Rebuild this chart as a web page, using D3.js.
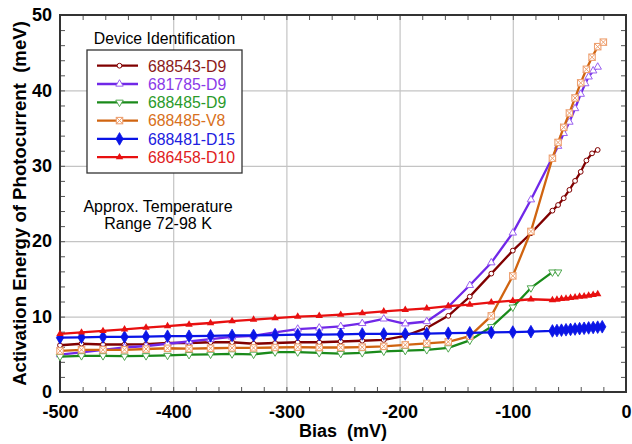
<!DOCTYPE html>
<html><head><meta charset="utf-8">
<script src="https://cdn.jsdelivr.net/npm/d3@7/dist/d3.min.js"></script>
<style>body{margin:0;background:#fff}svg{display:block}text{font-family:"Liberation Sans",Arial,sans-serif}</style>
</head><body>
<svg id="c" width="632" height="444"></svg>
<script>
// ---- data ----
const seriesNames = ["688543-D9","681785-D9","688485-D9","688485-V8","688481-D15","686458-D10"];
const seriesColors = ["#800000","#7028e8","#1a8a1a","#d06410","#0a14e6","#e81010"];
const textColors   = ["#8b1a1a","#8a3ae8","#2a9a2a","#d87020","#2020e0","#e02020"];
const baseBias = [-500,-481,-462,-443,-424,-405,-386,-367,-348,-329,-310,-290,-271,-252,-233,-214,-195,-176,-157,-138,-119,-100,-84];

const biasA = baseBias.concat([-65,-60,-55,-50,-45,-40,-35,-30,-25]);
const valA  = [6.2,6.4,6.3,6.3,6.35,6.5,6.5,6.6,6.6,6.4,6.5,6.6,6.6,6.7,6.8,6.9,7.45,8.5,10.1,12.65,15.7,18.75,21.05,24.05,24.8,25.7,26.8,28.0,29.2,30.7,31.65,32.1];

const biasB = baseBias.concat([-60,-55,-50,-45,-40,-36,-33,-29,-25]);
const valB  = [4.95,5.25,5.6,5.9,6.1,6.4,6.7,7.0,7.3,7.45,7.9,8.35,8.5,8.7,9.1,9.7,9.05,9.35,11.3,14.15,17.15,21.1,25.5,32.6,34.3,35.8,37.6,39.5,40.9,41.8,42.6,43.1];

const biasC = baseBias.concat([-65,-60]);
const valC  = [4.7,4.8,4.8,4.75,4.8,4.85,4.95,5.0,5.05,5.0,5.3,5.3,5.2,5.1,5.2,5.4,5.5,5.6,5.85,6.85,8.65,11.25,13.8,15.9,15.9];

const biasD = baseBias.concat([-65,-60,-55,-50,-45,-40,-35,-30,-25,-20]);
const valD  = [5.45,5.6,5.6,5.6,5.7,5.8,5.75,5.8,5.85,5.85,5.9,5.95,5.9,5.9,5.95,6.05,6.25,6.45,6.65,7.4,10.1,15.4,21.3,31.0,33.1,35.1,37.0,39.0,41.0,42.8,44.4,45.8,46.4];

const biasE = baseBias.concat([-65,-61,-57,-53,-49,-45,-41,-37,-33,-29,-25,-21]);
const valE  = [7.2,7.25,7.3,7.3,7.35,7.4,7.4,7.45,7.5,7.5,7.55,7.6,7.6,7.65,7.7,7.7,7.7,7.75,7.8,7.85,7.9,7.95,8.0,8.1,8.15,8.2,8.25,8.3,8.35,8.4,8.45,8.5,8.55,8.6,8.65];

const biasF = baseBias.concat([-65,-61,-57,-53,-49,-45,-41,-37,-33,-29,-25]);
const valF  = [7.7,7.9,8.1,8.3,8.55,8.75,8.95,9.15,9.4,9.6,9.8,10.0,10.1,10.25,10.45,10.7,10.9,11.1,11.4,11.6,11.9,12.1,12.3,12.2,12.25,12.35,12.4,12.5,12.55,12.65,12.7,12.8,12.9,13.0];

const xMajor = [-500,-400,-300,-200,-100,0];
const yMajor = [0,10,20,30,40,50];
const noteLines = ["Approx. Temperature","Range 72-98 K"];

// ---- layout ----
const L=60,R=626,T=15,B=392;
const svg=d3.select("#c");
const x=d3.scaleLinear().domain([-500,0]).range([L,R]);
const y=d3.scaleLinear().domain([0,50]).range([B,T]);
const minorX=d3.range(-500,1,20), minorY=d3.range(0,51,2);

// grid
svg.append("g").attr("transform",`translate(0,${B})`)
  .call(d3.axisBottom(x).tickValues(xMajor.slice(1,-1)).tickSize(-(B-T)).tickFormat(""))
  .call(g=>{g.select(".domain").remove();g.selectAll("line").attr("stroke","#c4c4c4").attr("stroke-width",1.2);});
svg.append("g").attr("transform",`translate(${L},0)`)
  .call(d3.axisLeft(y).tickValues(yMajor.slice(1,-1)).tickSize(-(R-L)).tickFormat(""))
  .call(g=>{g.select(".domain").remove();g.selectAll("line").attr("stroke","#c4c4c4").attr("stroke-width",1.2);});

// inner ticks
function ticksStyle(g){g.select(".domain").remove();g.selectAll("line").attr("stroke","#555").attr("stroke-width",1);}
svg.append("g").attr("transform",`translate(0,${B})`).call(d3.axisBottom(x).tickValues(minorX).tickSize(-5).tickFormat("")).call(ticksStyle);
svg.append("g").attr("transform",`translate(0,${T})`).call(d3.axisTop(x).tickValues(minorX).tickSize(-5).tickFormat("")).call(ticksStyle);
svg.append("g").attr("transform",`translate(${L},0)`).call(d3.axisLeft(y).tickValues(minorY).tickSize(-5).tickFormat("")).call(ticksStyle);
svg.append("g").attr("transform",`translate(${R},0)`).call(d3.axisRight(y).tickValues(minorY).tickSize(-5).tickFormat("")).call(ticksStyle);

// tick labels
svg.append("g").attr("transform",`translate(0,${B})`)
  .call(d3.axisBottom(x).tickValues(xMajor).tickSize(0).tickPadding(13).tickFormat(d=>d===0?"0":String(d)))
  .call(g=>{g.select(".domain").remove();g.selectAll("text").attr("font-size",18).attr("font-weight","bold").attr("fill","#000").attr("font-family","Liberation Sans, Arial, sans-serif");});
svg.append("g").attr("transform",`translate(${L},0)`)
  .call(d3.axisLeft(y).tickValues(yMajor).tickSize(0).tickPadding(8))
  .call(g=>{g.select(".domain").remove();g.selectAll("text").attr("font-size",18).attr("font-weight","bold").attr("fill","#000").attr("font-family","Liberation Sans, Arial, sans-serif");});

// frame
svg.append("rect").attr("x",L).attr("y",T).attr("width",R-L).attr("height",B-T).attr("fill","none").attr("stroke","#333").attr("stroke-width",2);

// axis titles
svg.append("text").attr("x",(L+R)/2).attr("y",437).attr("text-anchor","middle").attr("font-size",18).attr("font-weight","bold").style("white-space","pre").text("Bias  (mV)");
svg.append("text").attr("transform",`translate(26,${(T+B)/2}) rotate(-90)`).attr("text-anchor","middle").attr("font-size",18.6).attr("font-weight","bold").style("white-space","pre").text("Activation Energy of Photocurrent  (meV)");

// series
const series=[
 {bias:biasA,val:valA,mk:"circle"},
 {bias:biasB,val:valB,mk:"triUp"},
 {bias:biasC,val:valC,mk:"triDown"},
 {bias:biasD,val:valD,mk:"xsq"},
 {bias:biasE,val:valE,mk:"diamond"},
 {bias:biasF,val:valF,mk:"triFill"}
];
function drawMarker(g,mk,color,cx,cy){
  if(mk==="circle"){g.append("circle").attr("cx",cx).attr("cy",cy).attr("r",2.4).attr("fill","#fff").attr("stroke",color).attr("stroke-width",1);}
  else if(mk==="triUp"){g.append("path").attr("d",d3.symbol(d3.symbolTriangle,24)()).attr("transform",`translate(${cx},${cy})`).attr("fill","#fff").attr("stroke","#9a60f0").attr("stroke-width",1);}
  else if(mk==="triDown"){g.append("path").attr("d",d3.symbol(d3.symbolTriangle,24)()).attr("transform",`translate(${cx},${cy}) rotate(180)`).attr("fill","#fff").attr("stroke","#50a850").attr("stroke-width",1);}
  else if(mk==="xsq"){const s=3.2;g.append("rect").attr("x",cx-s).attr("y",cy-s).attr("width",2*s).attr("height",2*s).attr("fill","#fff").attr("stroke","#eea070").attr("stroke-width",1.1);
    g.append("path").attr("d",`M${cx-s},${cy-s}L${cx+s},${cy+s}M${cx-s},${cy+s}L${cx+s},${cy-s}`).attr("stroke","#eea070").attr("stroke-width",1);}
  else if(mk==="diamond"){g.append("path").attr("d",d3.symbol(d3.symbolDiamond,46)()).attr("transform",`translate(${cx},${cy})`).attr("fill",color).attr("stroke",color).attr("stroke-width",0.8);}
  else if(mk==="triFill"){g.append("path").attr("d",d3.symbol(d3.symbolTriangle,24)()).attr("transform",`translate(${cx},${cy})`).attr("fill",color);}
}
const line=d3.line().x(d=>x(d[0])).y(d=>y(d[1]));
series.forEach((s,i)=>{
  const pts=s.bias.map((b,j)=>[b,s.val[j]]);
  const g=svg.append("g");
  g.append("path").attr("d",line(pts)).attr("fill","none").attr("stroke",seriesColors[i]).attr("stroke-width",2.3).attr("stroke-linejoin","round");
  pts.forEach(p=>drawMarker(g,s.mk,seriesColors[i],x(p[0]),y(p[1])));
});

// legend
svg.append("text").attr("x",164.5).attr("y",44).attr("text-anchor","middle").attr("font-size",15.8).text("Device Identification");
svg.append("rect").attr("x",87).attr("y",50).attr("width",155).attr("height",123).attr("fill","#fff").attr("stroke","#333").attr("stroke-width",1.3);
seriesNames.forEach((n,i)=>{
  const cy=65.7+i*18.3;
  const g=svg.append("g");
  g.append("line").attr("x1",97).attr("x2",138).attr("y1",cy).attr("y2",cy).attr("stroke",seriesColors[i]).attr("stroke-width",2.3);
  drawMarker(g,series[i].mk,seriesColors[i],119.5,cy);
  g.append("text").attr("x",148).attr("y",cy+5.8).attr("font-size",15.8).attr("fill",textColors[i]).text(n);
});
noteLines.forEach((t,i)=>svg.append("text").attr("x",158).attr("y",212+i*17).attr("text-anchor","middle").attr("font-size",16).text(t));
</script>
</body></html>
